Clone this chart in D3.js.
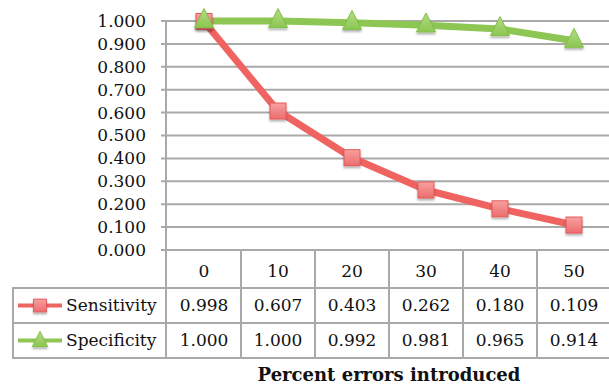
<!DOCTYPE html>
<html><head><meta charset="utf-8">
<script src="https://cdn.jsdelivr.net/npm/d3@7"></script>
<style>body{margin:0;background:#fff}svg{display:block}</style>
</head><body>
<script>
const categories = ["0","10","20","30","40","50"];
const sensitivity = [0.998,0.607,0.403,0.262,0.180,0.109];
const specificity = [1.000,1.000,0.992,0.981,0.965,0.914];
const yTicks = [0,0.1,0.2,0.3,0.4,0.5,0.6,0.7,0.8,0.9,1.0];
const seriesNames = ["Sensitivity","Specificity"];
const xTitle = "Percent errors introduced";

const W=609,H=386;
const svg=d3.select("body").append("svg").attr("width",W).attr("height",H);
const font="DejaVu Serif";
const gridC="#a9a9a9";
const x=d3.scaleBand().domain(categories).range([167,611]);
const y=d3.scaleLinear().domain([0,1]).range([250,21]);

const defs=svg.append("defs");
const rg=defs.append("linearGradient").attr("id","rg").attr("x1",0).attr("y1",0).attr("x2",0).attr("y2",1);
rg.append("stop").attr("offset","0").attr("stop-color","#f8a0a0");
rg.append("stop").attr("offset","1").attr("stop-color","#ec6d6d");
const gg=defs.append("linearGradient").attr("id","gg").attr("x1",0).attr("y1",0).attr("x2",0).attr("y2",1);
gg.append("stop").attr("offset","0").attr("stop-color","#b5dc85");
gg.append("stop").attr("offset","1").attr("stop-color","#8cc652");
const sh=defs.append("filter").attr("id","sh").attr("x","-50%").attr("y","-50%").attr("width","200%").attr("height","200%");
sh.append("feDropShadow").attr("dx",0).attr("dy",2).attr("stdDeviation",1.2).attr("flood-color","#000").attr("flood-opacity",0.3);

// gridlines
svg.append("g").selectAll("line").data(yTicks).join("line")
  .attr("x1",161).attr("x2",W).attr("y1",d=>y(d)).attr("y2",d=>y(d))
  .attr("stroke",gridC).attr("stroke-width",2);
// y axis labels
svg.append("g").selectAll("text").data(yTicks).join("text")
  .attr("x",146).attr("y",d=>y(d)).attr("dy","0.35em").attr("text-anchor","end")
  .attr("font-family",font).attr("font-size",17).attr("fill","#111")
  .text(d=>d3.format(".3f")(d));

// table
const rowTop=[250,288,323,358];
const tb=svg.append("g").attr("stroke",gridC).attr("stroke-width",2);
tb.append("line").attr("x1",166).attr("x2",166).attr("y1",21).attr("y2",358);
tb.selectAll(".v").data(categories).join("line").attr("class","v")
  .attr("x1",d=>x(d)+x.bandwidth()).attr("x2",d=>x(d)+x.bandwidth()).attr("y1",250).attr("y2",358);
tb.append("line").attr("x1",13).attr("x2",13).attr("y1",288).attr("y2",358);
[288,323,358].forEach(yy=>tb.append("line").attr("x1",12).attr("x2",W).attr("y1",yy).attr("y2",yy));

svg.append("g").selectAll("text").data(categories).join("text")
  .attr("x",d=>x(d)+x.bandwidth()/2).attr("y",271).attr("dy","0.35em").attr("text-anchor","middle")
  .attr("font-family",font).attr("font-size",17).attr("fill","#111").text(d=>d);

const series=[{name:seriesNames[0],vals:sensitivity,color:"#ef6460",m:"sq"},{name:seriesNames[1],vals:specificity,color:"#8dc653",m:"tri"}];
series.forEach((s,i)=>{
  const cy=(rowTop[i+1]+rowTop[i+2])/2;
  svg.append("g").selectAll("text").data(s.vals).join("text")
    .attr("x",(d,j)=>x(categories[j])+x.bandwidth()/2).attr("y",cy).attr("dy","0.35em").attr("text-anchor","middle")
    .attr("font-family",font).attr("font-size",17).attr("fill","#111").text(d=>d3.format(".3f")(d));
  svg.append("text").attr("x",66).attr("y",cy).attr("dy","0.35em")
    .attr("font-family",font).attr("font-size",17).attr("fill","#111").text(s.name);
  svg.append("line").attr("x1",18).attr("x2",62).attr("y1",cy).attr("y2",cy).attr("stroke",s.color).attr("stroke-width",4);
  drawMarker(s,40,cy,0.8);
});

function drawMarker(s,cx,cy,k){
  if(s.m==="sq"){
    const a=16*k;
    svg.append("rect").attr("x",cx-a/2).attr("y",cy-a/2).attr("width",a).attr("height",a)
      .attr("fill","url(#rg)").attr("stroke","#e35a5a").attr("stroke-width",1).attr("filter","url(#sh)");
  } else {
    const a=19*k;
    svg.append("path").attr("d",`M${cx},${cy-a*0.6}L${cx+a/2},${cy+a*0.4}L${cx-a/2},${cy+a*0.4}Z`)
      .attr("fill","url(#gg)").attr("stroke","#84c04a").attr("stroke-width",1).attr("filter","url(#sh)");
  }
}

const line=d3.line().x((d,j)=>x(categories[j])+x.bandwidth()/2).y(d=>y(d));
[series[1],series[0]].forEach(s=>{
  svg.append("path").datum(s.vals).attr("d",line).attr("fill","none").attr("stroke",s.color)
    .attr("stroke-width",7).attr("stroke-linejoin","round");
});
series[0].vals.forEach((v,j)=>drawMarker(series[0],x(categories[j])+x.bandwidth()/2,y(v),1));
series[1].vals.forEach((v,j)=>drawMarker(series[1],x(categories[j])+x.bandwidth()/2,y(v)-1,1));

svg.append("text").attr("x",389).attr("y",375).attr("dy","0.35em").attr("text-anchor","middle")
  .attr("font-family",font).attr("font-size",18).attr("font-weight","bold").attr("fill","#111").text(xTitle);
</script>
</body></html>
